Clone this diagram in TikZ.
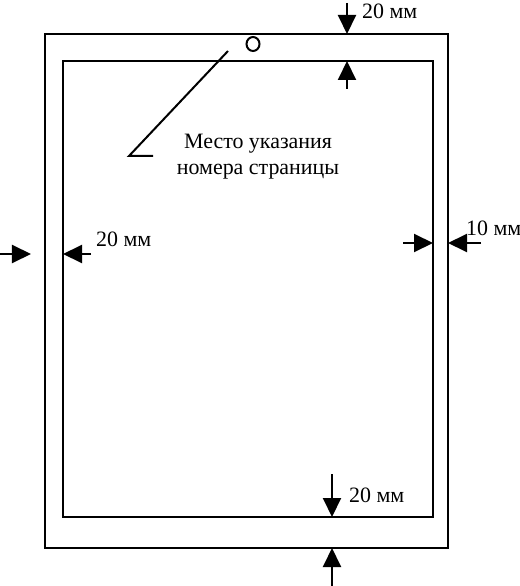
\documentclass[tikz,border=0pt]{standalone}
\usepackage{fontspec}
\setmainfont{Liberation Serif}
\usetikzlibrary{arrows.meta,shapes.geometric}
\newcommand\lw{2bp}

\begin{document}
\begin{tikzpicture}[x=1bp, y=-1bp, frame/.style={draw, line width=\lw}, dim/.style={line width=\lw, -{Triangle[length=19bp,width=18bp]}}, lbl/.style={font=\fontsize{22}{26}\selectfont, inner sep=0pt}]
    \useasboundingbox (0,0) rectangle (520,586);

    %Sheet and frame
    \draw[frame] (45,34) rectangle (448,548);
    \draw[frame] (63,61) rectangle (433,517);

    %Top margin
    \coordinate (ta) at (347,3);
    \coordinate (tb) at (347,34);
    \coordinate (tc) at (347,89);
    \coordinate (td) at (347,61);
    \draw[dim] (ta) -- (tb);
    \draw[dim] (tc) -- (td);
    \node[lbl, anchor=west] (ttop) at (362,11) {20 мм};

    %Left margin
    \coordinate (la) at (0,254);
    \coordinate (lb) at (31,254);
    \coordinate (lc) at (91,254);
    \coordinate (ld) at (63,254);
    \draw[dim] (la) -- (lb);
    \draw[dim] (lc) -- (ld);
    \node[lbl, anchor=west] (tleft) at (96,239) {20 мм};

    %Right margin
    \node[lbl, anchor=west] (tright) at (466,228) {10 мм};
    \coordinate (ra) at (403,243);
    \coordinate (rb) at (433,243);
    \coordinate (rc) at (481,243);
    \coordinate (rd) at (448,243);
    \draw[dim] (ra) -- (rb);
    \draw[dim] (rc) -- (rd);

    %Bottom margin
    \coordinate (ba) at (332,474);
    \coordinate (bb) at (332,517);
    \coordinate (bc) at (332,586);
    \coordinate (bd) at (332,548);
    \draw[dim] (ba) -- (bb);
    \draw[dim] (bc) -- (bd);
    \node[lbl, anchor=west] (tbot) at (349,495) {20 мм};

    %Page number place
    \node[ellipse, draw, line width=\lw, minimum width=13bp, minimum height=14bp, inner sep=0pt] (pnum) at (253,44) {};
    \coordinate (pa) at (228,51);
    \coordinate (pb) at (129,156);
    \coordinate (pc) at (153,156);
    \draw[line width=\lw] (pa) -- (pb) -- (pc);
    \node[lbl, align=center] (ptext) at (258,157) {Место указания\\номера страницы};
\end{tikzpicture}
\end{document}
